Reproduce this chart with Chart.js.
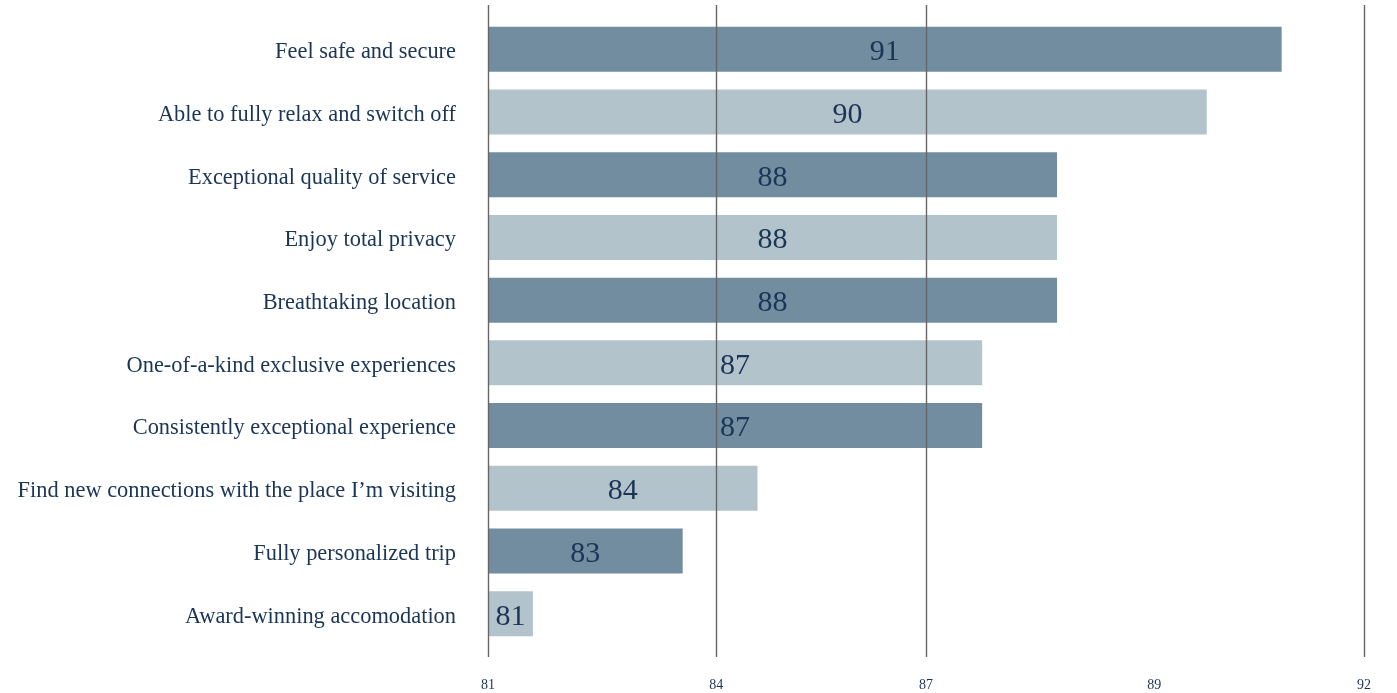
<!DOCTYPE html>
<html>
<head>
<meta charset="utf-8">
<script src="https://cdn.jsdelivr.net/npm/chart.js@4.4.1/dist/chart.umd.min.js"></script>
<style>
  html, body { margin: 0; padding: 0; background: #fff; }
  #wrap { position: relative; width: 1397px; height: 693px; }
</style>
</head>
<body>
<div id="wrap"><canvas id="chart"></canvas></div>
<script>
const categories = [
    'Feel safe and secure',
    'Able to fully relax and switch off',
    'Exceptional quality of service',
    'Enjoy total privacy',
    'Breathtaking location',
    'One-of-a-kind exclusive experiences',
    'Consistently exceptional experience',
    'Find new connections with the place I\u2019m visiting',
    'Fully personalized trip',
    'Award-winning accomodation',
];
const scores = [91, 90, 88, 88, 88, 87, 87, 84, 83, 81];

// x axis: where the ticks sit on the value scale, and what they read
const xMin = 80.4;
const xMax = 92.1;
const xTickValues = [80.4, 83.45, 86.25, 89.3, 92.1];
const xTickLabels = ['81', '84', '87', '89', '92'];
const xTickLines = [true, true, true, false, true];

const DARK = '#728d9f';
const LIGHT = '#b2c3cb';
const INK = '#1a3556';
const SERIF = "'Liberation Serif', 'DejaVu Serif', serif";

// vertical rules, running a little past the bar band at both ends
const gridPlugin = {
    id: 'rules',
    afterDatasetsDraw(chart) {
        const { ctx, chartArea, scales } = chart;
        ctx.save();
        ctx.strokeStyle = '#666';
        ctx.lineWidth = 1.4;
        xTickValues.forEach((v, i) => {
            if (!xTickLines[i]) return;
            const x = Math.round(scales.x.getPixelForValue(v)) + 0.5;
            ctx.beginPath();
            ctx.moveTo(x, chartArea.top - 13);
            ctx.lineTo(x, chartArea.bottom + 12);
            ctx.stroke();
        });
        ctx.restore();
    },
};

// score printed in the middle of each bar
const valuePlugin = {
    id: 'barValues',
    afterDraw(chart) {
        const { ctx, scales } = chart;
        const x0 = scales.x.getPixelForValue(xMin);
        ctx.save();
        ctx.fillStyle = INK;
        ctx.font = '30px ' + SERIF;
        ctx.textAlign = 'center';
        ctx.textBaseline = 'middle';
        scores.forEach((s, i) => {
            const x1 = scales.x.getPixelForValue(s);
            const y = scales.y.getPixelForValue(i);
            ctx.fillText(String(s), (x0 + x1) / 2, y + 3);
        });
        ctx.restore();
    },
};

new Chart(document.getElementById('chart'), {
    type: 'bar',
    data: {
        labels: categories,
        datasets: [{
            data: scores,
            backgroundColor: scores.map((_, i) => (i % 2 === 0 ? DARK : LIGHT)),
            borderWidth: 0,
            barPercentage: 0.718,
            categoryPercentage: 1,
        }],
    },
    options: {
        indexAxis: 'y',
        responsive: true,
        maintainAspectRatio: false,
        animation: false,
        layout: { padding: { top: 18, right: 33, bottom: 0, left: 0 } },
        plugins: {
            legend: { display: false },
            tooltip: { enabled: false },
        },
        scales: {
            x: {
                min: xMin,
                max: xMax,
                grid: { display: false, drawTicks: false },
                border: { display: false },
                afterBuildTicks(scale) {
                    scale.ticks = xTickValues.map(v => ({ value: v }));
                },
                afterFit(scale) {
                    scale.height = 48;
                    scale.paddingLeft = 0;
                    scale.paddingRight = 0;
                },
                ticks: {
                    autoSkip: false,
                    maxRotation: 0,
                    padding: 32,
                    color: INK,
                    font: { family: SERIF, size: 14 },
                    callback: (v, i) => xTickLabels[i],
                },
            },
            y: {
                grid: { display: false, drawTicks: false },
                border: { display: false },
                afterFit(scale) {
                    scale.width = 488;
                    scale.paddingTop = 0;
                    scale.paddingBottom = 0;
                },
                ticks: {
                    padding: 32,
                    labelOffset: 3,
                    color: INK,
                    font: { family: SERIF, size: 22.4 },
                },
            },
        },
    },
    plugins: [gridPlugin, valuePlugin],
});
</script>
</body>
</html>
